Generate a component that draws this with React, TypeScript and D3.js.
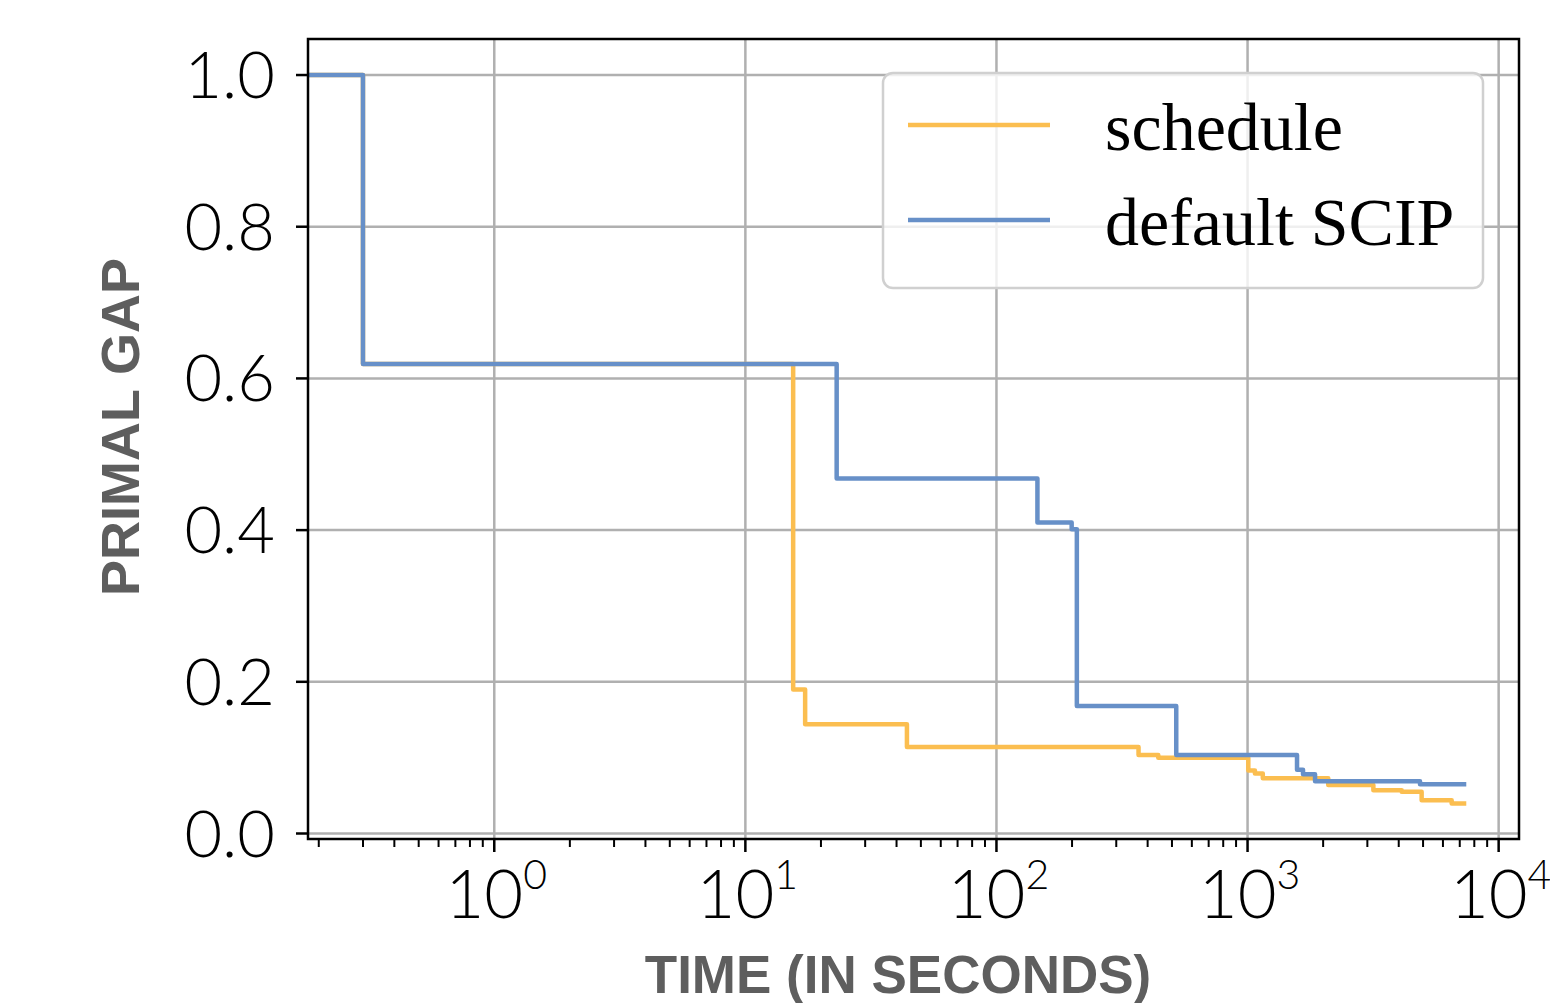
import React from "react";
import * as d3 from "d3";

const scheduleTimes = [0.18, 0.3, 15.5, 17.3, 44, 368, 441, 1007, 1070, 1150, 2096, 3170, 4110, 4935, 6500, 7280];
const scheduleGap = [1.0, 0.619, 0.19, 0.144, 0.114, 0.1035, 0.1, 0.083, 0.079, 0.073, 0.064, 0.057, 0.055, 0.044, 0.0395, 0.0395];

const defaultTimes = [0.18, 0.3, 23.1, 145.6, 199.3, 209, 520, 1574, 1663, 1857, 4862, 7280];
const defaultGap = [1.0, 0.619, 0.468, 0.41, 0.401, 0.168, 0.1035, 0.084, 0.078, 0.069, 0.065, 0.065];

const yTicks = [0.0, 0.2, 0.4, 0.6, 0.8, 1.0];
const xMajorExps = [0, 1, 2, 3, 4];
const seriesNames = ["schedule", "default SCIP"];
const seriesColors = ["#FBBE50", "#6790C8"];

const W = 1550;
const H = 1003;
const L = 308, R = 1519, T = 39, B = 839;

export default function App() {
  const x = d3.scaleLog().domain([0.1812, 12052]).range([L, R]);
  const y = d3.scaleLinear().domain([-0.00725, 1.0475]).range([B, T]);

  const line = d3
    .line<[number, number]>()
    .x((d) => x(d[0]))
    .y((d) => y(d[1]))
    .curve(d3.curveStepAfter);

  const sched = scheduleTimes.map((t, i) => [t, scheduleGap[i]] as [number, number]);
  const def = defaultTimes.map((t, i) => [t, defaultGap[i]] as [number, number]);

  const minors: number[] = [];
  for (let e = -1; e <= 4; e++) {
    for (let m = 2; m <= 9; m++) {
      const v = m * Math.pow(10, e);
      if (v > 0.1812 && v < 12052) minors.push(v);
    }
  }

  const fmt = d3.format(".1f");
  const tickFont = "Lato, 'Open Sans', Roboto, sans-serif";
  const labelFont = "'Liberation Sans', Arial, Helvetica, sans-serif";

  return (
    <svg width={W} height={H} style={{ position: "absolute", left: 0, top: 0, background: "#fff" }}>
      <defs>
        <clipPath id="plotclip">
          <rect x={L} y={T} width={R - L} height={B - T} />
        </clipPath>
      </defs>
      <rect x={0} y={0} width={W} height={H} fill="#fff" />
      {/* grid */}
      <g stroke="#b0b0b0" strokeWidth={2.5}>
        {xMajorExps.map((e) => (
          <line key={"gx" + e} x1={x(Math.pow(10, e))} x2={x(Math.pow(10, e))} y1={T} y2={B} />
        ))}
        {yTicks.map((v) => (
          <line key={"gy" + v} x1={L} x2={R} y1={y(v)} y2={y(v)} />
        ))}
      </g>
      {/* data */}
      <g clipPath="url(#plotclip)" fill="none" strokeWidth={4.5} strokeLinejoin="round" strokeLinecap="square">
        <path d={line(sched) || ""} stroke={seriesColors[0]} />
        <path d={line(def) || ""} stroke={seriesColors[1]} />
      </g>
      {/* spines */}
      <rect x={L} y={T} width={R - L} height={B - T} fill="none" stroke="#000" strokeWidth={2.5} />
      {/* y ticks */}
      <g>
        {yTicks.map((v) => (
          <g key={"yt" + v}>
            <line x1={L - 12} x2={L} y1={y(v)} y2={y(v)} stroke="#000" strokeWidth={2.5} />
            <text
              x={L - 33}
              y={y(v) + 23}
              textAnchor="end"
              fontFamily={tickFont}
              fontWeight={300}
              fontSize={65}
              fill="#000"
            >
              {fmt(v)}
            </text>
          </g>
        ))}
      </g>
      {/* x ticks */}
      <g>
        {minors.map((v) => (
          <line key={"mx" + v} x1={x(v)} x2={x(v)} y1={B} y2={B + 8} stroke="#000" strokeWidth={2} />
        ))}
        {xMajorExps.map((e) => (
          <g key={"xt" + e}>
            <line x1={x(Math.pow(10, e))} x2={x(Math.pow(10, e))} y1={B} y2={B + 13} stroke="#000" strokeWidth={2.5} />
            <text
              x={x(Math.pow(10, e)) + 2}
              y={918}
              textAnchor="middle"
              fontFamily={tickFont}
              fontWeight={300}
              fontSize={67}
              fill="#000"
            >
              10
              <tspan dy={-29} fontSize={41}>
                {String(e)}
              </tspan>
            </text>
          </g>
        ))}
      </g>
      {/* axis labels */}
      <text
        x={898}
        y={993}
        textAnchor="middle"
        fontFamily={labelFont}
        fontWeight="bold"
        fontSize={53}
        fill="#5e5e5e"
      >
        TIME (IN SECONDS)
      </text>
      <text
        transform="translate(139,427) rotate(-90)"
        textAnchor="middle"
        fontFamily={labelFont}
        fontWeight="bold"
        fontSize={54}
        fill="#5e5e5e"
      >
        PRIMAL GAP
      </text>
      {/* legend */}
      <g>
        <rect x={883} y={73} width={600} height={215} rx={10} ry={10} fill="#fff" fillOpacity={0.8} stroke="#d0d0d0" strokeWidth={2.5} />
        {seriesNames.map((name, i) => (
          <g key={name}>
            <line x1={908} x2={1050} y1={125 + i * 95} y2={125 + i * 95} stroke={seriesColors[i]} strokeWidth={4.5} />
            <text
              x={1105}
              y={150 + i * 95}
              fontFamily="'Liberation Serif', 'Times New Roman', serif"
              fontSize={68}
              fill="#000"
            >
              {name}
            </text>
          </g>
        ))}
      </g>
    </svg>
  );
}
